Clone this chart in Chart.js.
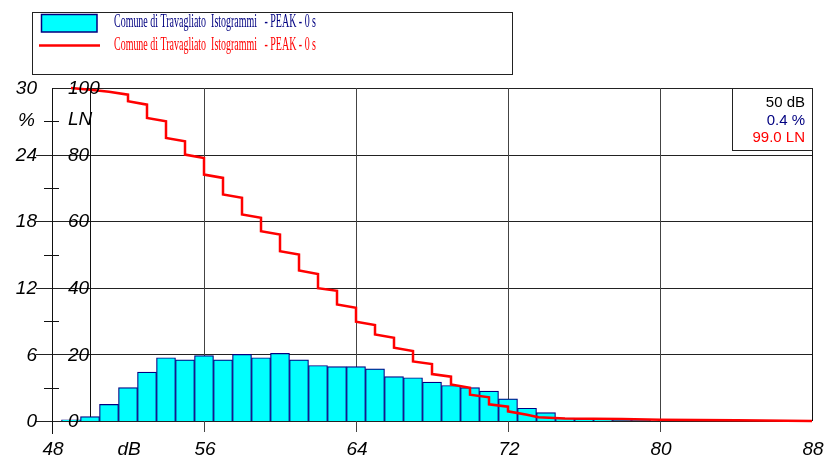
<!DOCTYPE html>
<html><head><meta charset="utf-8">
<script src="https://cdn.jsdelivr.net/npm/chart.js@4.4.0/dist/chart.umd.min.js"></script>
<style>html,body{margin:0;padding:0;background:#fff;overflow:hidden}#wrap{width:829px;height:456px;position:relative}</style>
</head><body><div id="wrap"><canvas id="c" width="829" height="456"></canvas></div>
<script>
// Histogram: sound level (dB) -> % of time
const levels  = [49, 50, 51, 52, 53, 54, 55, 56, 57, 58, 59, 60, 61, 62, 63, 64, 65, 66, 67, 68, 69, 70, 71, 72, 73, 74, 75, 76, 77, 78, 79];
const percent = [0.1, 0.4, 1.5, 3.0, 4.4, 5.7, 5.5, 5.9, 5.5, 6.0, 5.7, 6.1, 5.5, 5.0, 4.9, 4.9, 4.7, 4.0, 3.9, 3.5, 3.2, 3.0, 2.7, 2.0, 1.15, 0.75, 0.27, 0.15, 0.1, 0.05, 0.05];
// Cumulative LN curve
const lnLevels = [49, 50, 51, 52, 52, 53, 53, 54, 54, 55, 55, 56, 56, 57, 57, 58, 58, 59, 59, 60, 60, 61, 61, 62, 62, 63, 63, 64, 64, 65, 65, 66, 66, 67, 67, 68, 68, 69, 69, 70, 70, 71, 71, 72, 72, 73, 73.6, 75, 78, 80, 84, 88];
const lnValues = [100, 99.5, 98.9, 98.0, 96.0, 95.0, 91.0, 90.0, 85.0, 84.0, 80.0, 79.0, 74.0, 73.0, 68.0, 67.0, 62.0, 61.0, 57.0, 56.0, 51.0, 50.0, 45.2, 44.1, 39.9, 39.1, 35.0, 34.0, 29.8, 28.8, 26.0, 25.0, 22.0, 21.0, 17.9, 17.1, 14.1, 13.3, 11.0, 10.0, 7.9, 7.1, 5.0, 4.3, 2.9, 1.9, 1.1, 0.75, 0.6, 0.4, 0.2, 0];
// Axis ticks
const xTicks = [48, 56, 64, 72, 80, 88];
const pctTicks = [0, 6, 12, 18, 24, 30];
const pctMinor = [3, 9, 15, 21, 27];
const lnTicks = [0, 20, 40, 60, 80, 100];
const legendLabel = 'Comune di Travagliato  Istogrammi   - PEAK - 0 s';
const infoLines = ['50 dB', '0.4 %', '99.0 LN'];

const NAVY = '#000080', RED = '#ff0000', CYAN = '#00ffff';

function ln(ctx, x1, y1, x2, y2){ ctx.beginPath(); ctx.moveTo(x1,y1); ctx.lineTo(x2,y2); ctx.stroke(); }

const deco = {
  id: 'deco',
  beforeDatasetsDraw(chart){
    const ctx = chart.ctx, xs = chart.scales.x, ys = chart.scales.y, a = chart.chartArea;
    ctx.save();
    ctx.lineWidth = 1;
    ctx.strokeStyle = '#222';
    for (const v of pctTicks){
      const py = Math.round(ys.getPixelForValue(v)) + 0.5;
      ln(ctx, v === 30 ? a.left : 36, py, a.right, py);
    }
    ctx.strokeStyle = '#444';
    for (const v of xTicks){
      if (v === 48 || v === 88) continue;
      const px = Math.round(xs.getPixelForValue(v)) + 0.5;
      ln(ctx, px, a.top, px, a.bottom + 11);
    }
    ctx.strokeStyle = '#111';
    const lx = Math.round(a.left) + 0.5;
    ln(ctx, lx, a.top, lx, a.bottom + 13);
    for (const v of pctMinor){
      const py = Math.round(ys.getPixelForValue(v)) + 0.5;
      ln(ctx, 44, py, 59, py);
    }
    const lnx = Math.round(xs.getPixelForValue(50)) + 0.5;
    ln(ctx, lnx, a.top, lnx, a.bottom);
    const rx = Math.round(a.right) + 0.5;
    ln(ctx, rx, a.top, rx, a.bottom);
    ctx.restore();
  },
  afterDraw(chart){
    const ctx = chart.ctx, xs = chart.scales.x, ys = chart.scales.y, yl = chart.scales.yLN;
    ctx.save();
    ctx.fillStyle = '#000';
    ctx.font = "italic 19px 'Liberation Sans', Arial, sans-serif";
    ctx.textBaseline = 'middle';
    ctx.textAlign = 'right';
    for (const v of pctTicks) ctx.fillText(String(v), 37, ys.getPixelForValue(v) + 1);
    ctx.fillText('%', 35, 121);
    ctx.textAlign = 'left';
    for (const v of lnTicks) ctx.fillText(String(v), 68, yl.getPixelForValue(v) + 1);
    ctx.fillText('LN', 68, 120);
    ctx.textAlign = 'center';
    ctx.textBaseline = 'alphabetic';
    for (const v of xTicks) ctx.fillText(String(v), xs.getPixelForValue(v) + 1, 455);
    ctx.fillText('dB', 129, 455);

    // legend box
    ctx.lineWidth = 1;
    ctx.strokeStyle = '#222';
    ctx.strokeRect(32.5, 12.5, 480, 62);
    ctx.fillStyle = CYAN;
    ctx.fillRect(41, 14, 56, 18);
    ctx.strokeStyle = NAVY; ctx.lineWidth = 1.5;
    ctx.strokeRect(41.5, 14.5, 55.5, 17.5);
    ctx.strokeStyle = RED; ctx.lineWidth = 2.5;
    ln(ctx, 39, 45.5, 100, 45.5);
    ctx.font = "18px 'Liberation Serif', 'Times New Roman', serif";
    ctx.textAlign = 'left';
    const w = ctx.measureText(legendLabel).width;
    const sx = 202 / w;
    ctx.save(); ctx.translate(114, 0); ctx.scale(sx, 1);
    ctx.fillStyle = NAVY; ctx.fillText(legendLabel, 0, 27);
    ctx.fillStyle = RED; ctx.fillText(legendLabel, 0, 49.5);
    ctx.restore();

    // info box
    ctx.fillStyle = '#fff';
    ctx.fillRect(732.5, 88.5, 80, 62);
    ctx.strokeStyle = '#222'; ctx.lineWidth = 1;
    ctx.strokeRect(732.5, 88.5, 80, 62);
    ctx.font = "15px 'Liberation Sans', Arial, sans-serif";
    ctx.textAlign = 'right';
    const cols = ['#000', NAVY, RED], bases = [107.3, 124.5, 142];
    infoLines.forEach((t, i) => { ctx.fillStyle = cols[i]; ctx.fillText(t, 805, bases[i]); });
    ctx.restore();
  }
};

new Chart(document.getElementById('c'), {
  type: 'bar',
  data: {
    datasets: [
      {
        type: 'line',
        data: lnLevels.map((l, i) => ({x: l, y: lnValues[i]})),
        yAxisID: 'yLN',
        borderColor: RED,
        borderWidth: 2.5,
        pointRadius: 0,
        tension: 0,
        fill: false,
        order: 0,
        clip: false
      },
      {
        type: 'bar',
        data: levels.map((l, i) => ({x: l, y: percent[i]})),
        yAxisID: 'y',
        backgroundColor: CYAN,
        borderColor: NAVY,
        borderWidth: 1.2,
        borderSkipped: 'start',
        barPercentage: 1,
        categoryPercentage: 1,
        order: 1,
        clip: false
      }
    ]
  },
  options: {
    responsive: false,
    animation: false,
    devicePixelRatio: 1,
    layout: {padding: {left: 52, right: 17, top: 88, bottom: 35}},
    plugins: {legend: {display: false}, tooltip: {enabled: false}},
    scales: {
      x: {type: 'linear', min: 48, max: 88, offset: false, display: false},
      y: {min: 0, max: 30, display: false},
      yLN: {min: 0, max: 100, display: false}
    }
  },
  plugins: [deco]
});
</script>
</body></html>
